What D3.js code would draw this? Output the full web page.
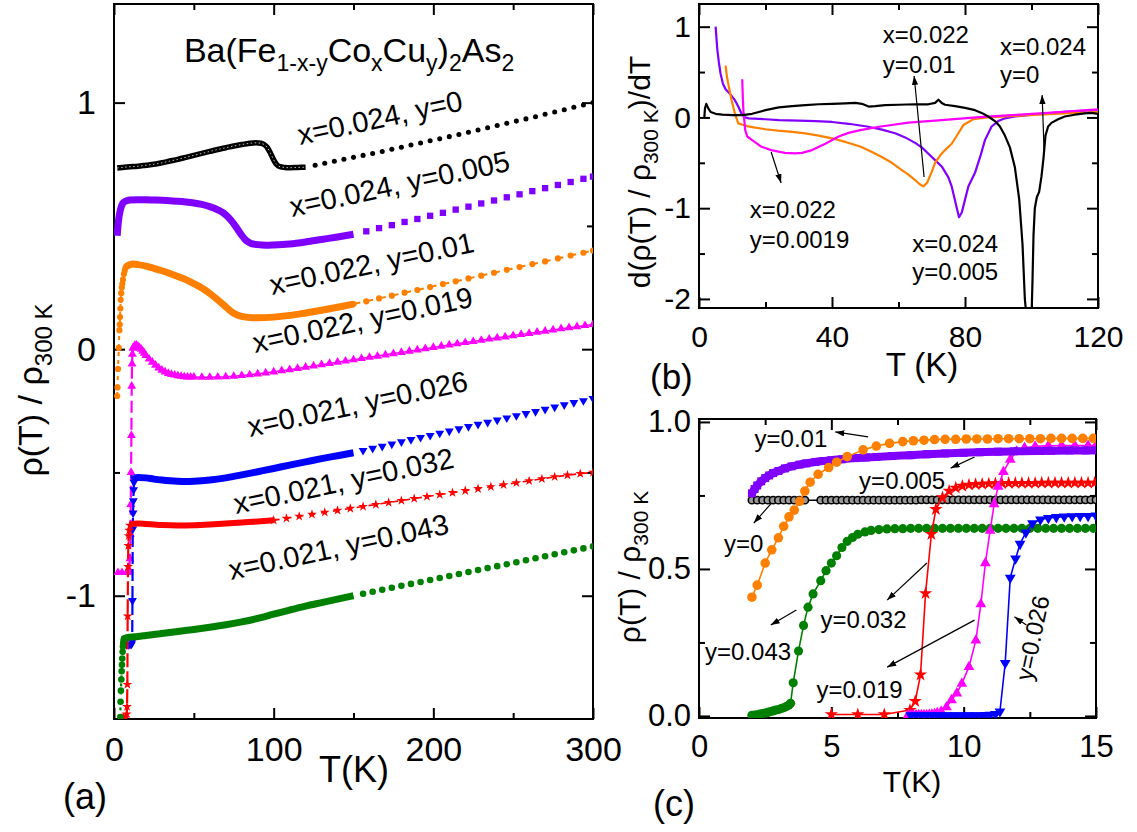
<!DOCTYPE html>
<html><head><meta charset="utf-8">
<script src="https://cdn.jsdelivr.net/npm/d3@7"></script>
<style>
html,body{margin:0;padding:0;background:#fff;}
svg text{font-family:"Liberation Sans",Arial,Helvetica,sans-serif;fill:#000;}
</style></head><body>
<svg id="fig" width="1137" height="832" xmlns="http://www.w3.org/2000/svg"></svg>
<script>
// ================= DATA =================
// ---- Panel (a): rho(T)/rho300K, curves offset by 0.3 each ----
const aBlackDense = [[2,0.735],[5,0.737],[10,0.740],[15,0.742],[20,0.746],[25,0.750],[30,0.756],[35,0.763],[40,0.770],[45,0.778],[50,0.786],[55,0.794],[60,0.802],[65,0.810],[70,0.817],[75,0.824],[80,0.830],[85,0.835],[89,0.837],[92,0.835],[94,0.830],[96,0.818],[98,0.795],[100,0.768],[102,0.748],[104,0.740],[107,0.737],[110,0.736],[115,0.737],[120,0.738]];
const aBlackSparse = [[126,0.746],[132,0.754],[138,0.762],[144,0.770],[150,0.778],[156,0.786],[162,0.794],[168,0.802],[174,0.811],[180,0.819],[186,0.828],[192,0.836],[198,0.845],[204,0.853],[210,0.862],[216,0.871],[222,0.880],[228,0.889],[234,0.898],[240,0.907],[246,0.916],[252,0.925],[258,0.934],[264,0.943],[270,0.953],[276,0.962],[282,0.971],[288,0.981],[294,0.990],[300,1.000]];

const aPurpleDense = [[2,0.460],[2.5,0.500],[3,0.530],[4,0.565],[5,0.585],[6,0.595],[8,0.602],[10,0.605],[15,0.606],[20,0.606],[25,0.605],[30,0.604],[35,0.602],[40,0.600],[45,0.597],[50,0.593],[55,0.587],[60,0.578],[65,0.565],[70,0.545],[73,0.525],[76,0.500],[78,0.480],[80,0.462],[82,0.446],[84,0.435],[86,0.428],[90,0.424],[95,0.422],[100,0.423],[110,0.427],[120,0.435],[130,0.445],[140,0.455],[150,0.466]];
const aPurpleSparse = [[158,0.478],[166,0.491],[174,0.503],[182,0.516],[190,0.528],[198,0.541],[206,0.553],[214,0.566],[222,0.578],[230,0.591],[238,0.603],[246,0.616],[254,0.628],[262,0.641],[270,0.653],[278,0.666],[286,0.678],[294,0.691],[300,0.700]];

const aOrangeLow = [[2,-0.190],[2.2,-0.155],[2.5,-0.080],[3,0.005],[3.4,0.077],[3.6,0.100],[3.8,0.130],[4,0.165],[4.2,0.200],[4.5,0.227],[4.9,0.250],[5.2,0.265],[5.6,0.282],[6.2,0.305],[6.7,0.318],[7.2,0.330],[7.7,0.335]];
const aOrangeDense = [[7.7,0.335],[10,0.343],[12,0.345],[15,0.343],[20,0.337],[25,0.328],[30,0.318],[35,0.307],[40,0.295],[45,0.282],[50,0.266],[55,0.248],[60,0.226],[65,0.200],[70,0.172],[73,0.155],[76,0.142],[80,0.133],[85,0.128],[90,0.127],[100,0.130],[110,0.137],[120,0.147],[130,0.158],[140,0.170],[150,0.183]];
const aOrangeSparse = [[150,0.183],[158,0.194],[166,0.206],[174,0.217],[182,0.229],[190,0.240],[198,0.252],[206,0.264],[214,0.275],[222,0.287],[230,0.298],[238,0.310],[246,0.322],[254,0.333],[262,0.345],[270,0.356],[278,0.368],[286,0.380],[294,0.391],[300,0.400]];

const aPinkLow = [[2.5,-0.906],[5,-0.906],[8,-0.905],[9,-0.905],[9.5,-0.895],[10,-0.850],[10.3,-0.750],[10.5,-0.630],[10.7,-0.500],[10.9,-0.350],[11.1,-0.150],[11.3,-0.060],[11.5,-0.020],[12,0.005]];
const aPinkPts = [[12,0.005],[13,0.015],[14,0.016],[15,0.012],[16,0.006],[17,0.0],[18,-0.008],[19,-0.016],[20,-0.025],[22,-0.040],[24,-0.053],[26,-0.065],[28,-0.076],[30,-0.085],[32,-0.092],[34,-0.098],[36,-0.102],[38,-0.105],[40,-0.108],[42,-0.110],[44,-0.112],[46,-0.113],[48,-0.113],[50,-0.113],[55,-0.114],[60,-0.114],[65,-0.113],[70,-0.112],[75,-0.110],[80,-0.107],[85,-0.104],[90,-0.100],[95,-0.096],[100,-0.092],[105,-0.087],[110,-0.083],[115,-0.078],[120,-0.073],[125,-0.068],[130,-0.063],[135,-0.058],[140,-0.053],[145,-0.048],[150,-0.043],[155,-0.038],[160,-0.033],[165,-0.028],[170,-0.023],[175,-0.018],[180,-0.013],[185,-0.008],[190,-0.003],[195,0.002],[200,0.007],[205,0.012],[210,0.017],[215,0.022],[220,0.027],[225,0.031],[230,0.036],[235,0.041],[240,0.046],[245,0.050],[250,0.055],[255,0.060],[260,0.064],[265,0.069],[270,0.073],[275,0.078],[280,0.083],[285,0.087],[290,0.091],[295,0.096],[300,0.100]];

const aBlueLow = [[8,-1.198],[9,-1.198],[10,-1.198],[11,-1.196],[11.4,-1.185],[11.55,-1.020],[11.75,-0.730],[11.95,-0.665],[12.1,-0.615],[12.3,-0.570],[12.5,-0.540],[12.8,-0.528],[13,-0.522]];
const aBlueDense = [[13,-0.522],[15,-0.520],[20,-0.522],[25,-0.527],[30,-0.531],[35,-0.534],[40,-0.536],[45,-0.537],[50,-0.536],[60,-0.531],[70,-0.522],[80,-0.510],[90,-0.497],[100,-0.484],[110,-0.470],[120,-0.457],[130,-0.444],[140,-0.432],[150,-0.420]];
const aBlueSparse = [[156,-0.411],[162,-0.402],[168,-0.394],[174,-0.385],[180,-0.376],[186,-0.367],[192,-0.358],[198,-0.350],[204,-0.341],[210,-0.332],[216,-0.323],[222,-0.314],[228,-0.305],[234,-0.297],[240,-0.288],[246,-0.279],[252,-0.270],[258,-0.261],[264,-0.253],[270,-0.244],[276,-0.235],[282,-0.226],[288,-0.217],[294,-0.209],[300,-0.200]];

const aRedLow = [[5,-1.495],[6,-1.495],[7,-1.495],[7.97,-1.480],[8.17,-1.450],[8.37,-1.360],[8.56,-1.083],[8.78,-0.882],[8.95,-0.797],[9.2,-0.757],[9.5,-0.735],[10,-0.715]];
const aRedDense = [[10,-0.712],[12,-0.708],[15,-0.707],[20,-0.709],[25,-0.711],[30,-0.713],[40,-0.715],[50,-0.714],[60,-0.711],[70,-0.707],[80,-0.703],[90,-0.699],[100,-0.694]];
const aRedSparse = [[100,-0.694],[108,-0.686],[116,-0.678],[124,-0.670],[132,-0.662],[140,-0.654],[148,-0.646],[156,-0.638],[164,-0.630],[172,-0.622],[180,-0.614],[188,-0.606],[196,-0.598],[204,-0.590],[212,-0.582],[220,-0.574],[228,-0.566],[236,-0.558],[244,-0.550],[252,-0.542],[260,-0.534],[268,-0.526],[276,-0.518],[284,-0.511],[292,-0.505],[300,-0.500]];

const aGreenLow = [[3.46,-1.757],[3.56,-1.687],[3.76,-1.579],[3.95,-1.492],[4.12,-1.430],[4.31,-1.385],[4.6,-1.340],[4.8,-1.306],[5.0,-1.280],[5.2,-1.255],[5.4,-1.227],[5.6,-1.206],[5.8,-1.193],[6.0,-1.182],[6.3,-1.174]];
const aGreenDense = [[6.3,-1.174],[8,-1.170],[10,-1.168],[15,-1.165],[20,-1.161],[30,-1.153],[40,-1.145],[50,-1.137],[60,-1.128],[70,-1.118],[80,-1.106],[90,-1.092],[100,-1.075],[110,-1.058],[120,-1.042],[130,-1.028],[140,-1.014],[150,-1.000]];
const aGreenSparse = [[156,-0.992],[162,-0.984],[168,-0.976],[174,-0.968],[180,-0.960],[186,-0.952],[192,-0.944],[198,-0.936],[204,-0.928],[210,-0.920],[216,-0.912],[222,-0.904],[228,-0.896],[234,-0.888],[240,-0.880],[246,-0.872],[252,-0.864],[258,-0.856],[264,-0.848],[270,-0.840],[276,-0.832],[282,-0.824],[288,-0.816],[294,-0.808],[300,-0.800]];

const aLabels = ["x=0.024, y=0","x=0.024, y=0.005","x=0.022, y=0.01","x=0.022, y=0.019","x=0.021, y=0.026","x=0.021, y=0.032","x=0.021, y=0.043"];
const aLabelPos = [[116.5,0.828],[111.5,0.536],[99,0.220],[88.3,-0.016],[85.2,-0.356],[76.4,-0.669],[73.3,-0.936]];
const aXTicks = [0,100,200,300], aXMinor = [50,150,250];
const aYTicks = [-1,0,1], aYMinor = [-0.5,0.5];

// ---- Panel (b): d(rho/rho300)/dT ----
const bPurple = [[5,1.0],[5.5,0.75],[6,0.6],[6.5,0.48],[7.2,0.37],[8,0.31],[9.3,0.26],[10.8,0.19],[11.8,0.12],[12.8,0.04],[13.9,0.0],[15,-0.01],[20,-0.02],[24,-0.03],[30,-0.035],[35,-0.04],[40,-0.05],[45,-0.07],[50.5,-0.10],[55,-0.135],[59,-0.175],[62,-0.22],[65,-0.28],[67,-0.33],[69,-0.40],[71,-0.47],[73,-0.54],[75,-0.66],[76,-0.76],[77.4,-0.98],[78.2,-1.10],[79,-1.05],[79.5,-0.98],[81,-0.76],[83,-0.61],[84.6,-0.43],[86,-0.25],[88,-0.10],[90,-0.04],[92,-0.01],[95,0.01],[99,0.025],[109,0.06],[120,0.08]];
const bOrange = [[8,0.57],[8.4,0.45],[8.8,0.37],[9.8,0.19],[10.8,0.044],[11.8,-0.066],[13.4,-0.084],[14.5,-0.095],[16.5,-0.11],[20,-0.13],[23.7,-0.146],[28,-0.16],[32,-0.175],[36,-0.20],[40,-0.23],[44,-0.27],[48.5,-0.32],[52,-0.38],[54.7,-0.43],[58,-0.50],[61,-0.58],[63,-0.63],[65,-0.69],[66.5,-0.74],[67.5,-0.76],[68.6,-0.72],[70,-0.60],[71,-0.50],[72.5,-0.42],[74,-0.36],[76,-0.29],[77.4,-0.21],[79.5,-0.084],[82.5,-0.02],[86.7,0.0],[92,0.01],[99,0.025],[110,0.045],[120,0.06]];
const bPink = [[13,0.42],[13.2,0.20],[13.4,0.044],[13.7,-0.06],[13.9,-0.14],[14.5,-0.21],[16,-0.25],[18.6,-0.32],[21.7,-0.36],[25.8,-0.39],[28.9,-0.395],[31,-0.39],[34,-0.36],[38,-0.29],[42,-0.21],[45,-0.17],[48.5,-0.14],[54.7,-0.10],[63,-0.058],[73,-0.03],[83.4,0.0],[94,0.025],[105,0.05],[120,0.088]];
const bBlack = [[1.6,0],[1.8,0.10],[2.2,0.15],[2.8,0.10],[3.5,0.06],[5,0.04],[7,0.03],[10,0.025],[13,0.025],[16,0.04],[20,0.08],[24,0.11],[28,0.125],[32,0.135],[36,0.145],[40,0.15],[44,0.155],[47,0.16],[49,0.15],[51,0.12],[53,0.125],[56,0.135],[60,0.14],[65,0.145],[69,0.145],[71,0.16],[72,0.195],[73,0.16],[74,0.14],[77,0.125],[80,0.105],[83,0.08],[85,0.05],[87,0.01],[89,-0.04],[90.5,-0.10],[92,-0.20],[93.5,-0.33],[95,-0.55],[96.3,-0.90],[97.3,-1.40],[98,-2.0],[98.5,-2.2],[100,-2.2],[100.3,-1.8],[100.6,-1.3],[101,-1.0],[101.6,-0.88],[102.3,-0.82],[103,-0.65],[103.6,-0.45],[104.2,-0.20],[105,-0.10],[106,-0.06],[108,-0.02],[110,0.01],[113,0.03],[116,0.045],[118,0.05],[120,0.04]];
const bXTicks = [0,40,80,120], bXMinor = [20,60,100];
const bYTicks = [-2,-1,0,1], bYMinor = [-1.5,-0.5,0.5];
const bNotes = [["x=0.022","y=0.01"],["x=0.024","y=0"],["x=0.022","y=0.0019"],["x=0.024","y=0.005"]];
const bNotePos = [[55.3,0.82,0.49],[90.5,0.688,0.379],[15.3,-1.108,-1.439],[64.1,-1.483,-1.79]];
const bArrows = [[67.7,-0.656,64.7,0.457],[103.8,-0.381,103.2,0.247],[21.7,-0.381,24.7,-0.722]];

// ---- Panel (c): low-T superconducting transitions ----
const cBlack = [[2.0,.734],[2.2,.734],[2.4,.734],[2.6,.734],[2.8,.734],[3.0,.734],[3.2,.734],[3.4,.734],[3.6,.734],[3.8,.734],[4.0,.734],[4.6,.734],[4.8,.734],[5.0,.734],[5.2,.734],[5.4,.734],[5.6,.734],[5.8,.734],[6.0,.734],[6.2,.734],[6.4,.734],[6.6,.734],[6.8,.734],[7.0,.734],[7.2,.734],[7.4,.734],[7.6,.734],[7.8,.734],[8.0,.734],[8.2,.734],[8.4,.735],[8.6,.735],[8.8,.735],[9.0,.735],[9.2,.735],[9.4,.735],[9.6,.735],[9.8,.735],[10.0,.735],[10.2,.735],[10.4,.735],[10.6,.735],[10.8,.735],[11.0,.735],[11.2,.735],[11.4,.735],[11.6,.735],[11.8,.735],[12.0,.735],[12.2,.735],[12.4,.735],[12.6,.735],[12.8,.735],[13.0,.735],[13.2,.735],[13.4,.735],[13.6,.735],[13.8,.735],[14.0,.735],[14.2,.735],[14.4,.735],[14.6,.735],[14.8,.735],[15.0,.735]];
const cPurple = [[2,0.757],[2.1,0.772],[2.2,0.784],[2.35,0.798],[2.5,0.809],[2.65,0.818],[2.8,0.826],[3,0.833],[3.25,0.842],[3.5,0.849],[3.8,0.855],[4.05,0.859],[4.4,0.864],[4.7,0.867],[5.0,0.870],[5.4,0.873],[5.9,0.877],[6.3,0.879],[6.7,0.881],[7.3,0.884],[8,0.887],[8.6,0.890],[9.3,0.893],[10,0.895],[10.6,0.897],[11.3,0.899],[11.9,0.900],[12.6,0.901],[13.3,0.902],[14,0.903],[14.6,0.903],[15,0.904]];
const cOrange = [[2,0.404],[2.2,0.445],[2.5,0.520],[2.75,0.565],[3.0,0.606],[3.2,0.645],[3.4,0.677],[3.6,0.700],[3.8,0.730],[4.0,0.765],[4.2,0.795],[4.5,0.822],[4.9,0.845],[5.2,0.863],[5.6,0.882],[6.2,0.905],[6.7,0.918],[7.2,0.927],[7.7,0.933],[8.1,0.936],[8.5,0.938],[8.9,0.940],[9.3,0.941],[9.7,0.941],[10.1,0.942],[10.5,0.942],[10.9,0.942],[11.3,0.943],[11.7,0.943],[12.1,0.943],[12.5,0.943],[12.9,0.943],[13.3,0.944],[13.7,0.944],[14.1,0.944],[14.5,0.944],[14.9,0.944]];
const cRed = [[5,0.005],[6,0.005],[7,0.005],[7.97,0.020],[8.17,0.050],[8.37,0.140],[8.56,0.417],[8.78,0.618],[8.95,0.703],[9.2,0.743],[9.45,0.765],[9.7,0.776],[9.95,0.782],[10.2,0.786],[10.45,0.788],[10.7,0.789],[10.95,0.790],[11.2,0.791],[11.45,0.791],[11.7,0.792],[11.95,0.792],[12.2,0.792],[12.45,0.792],[12.7,0.792],[12.95,0.793],[13.2,0.793],[13.45,0.793],[13.7,0.793],[13.95,0.793],[14.2,0.793],[14.45,0.793],[14.7,0.793],[14.95,0.793]];
const cPink = [[7.9,0.003],[8.0,0.003],[8.1,0.003],[8.2,0.003],[8.3,0.003],[8.4,0.003],[8.5,0.003],[8.6,0.003],[8.7,0.004],[8.8,0.005],[8.9,0.007],[9.0,0.010],[9.15,0.015],[9.35,0.030],[9.54,0.054],[9.74,0.077],[9.93,0.110],[10.2,0.167],[10.46,0.257],[10.65,0.380],[10.82,0.520],[11.0,0.630],[11.15,0.720],[11.3,0.780],[11.5,0.830],[11.76,0.872],[12.0,0.900],[12.3,0.912],[12.7,0.917],[13.2,0.919],[13.7,0.920],[14.2,0.920],[14.7,0.920],[15,0.920]];
const cBlue = [[8.0,0.002],[8.2,0.002],[8.4,0.002],[8.6,0.002],[8.8,0.002],[9.0,0.002],[9.2,0.002],[9.4,0.002],[9.6,0.002],[9.8,0.002],[10.0,0.002],[10.2,0.002],[10.4,0.002],[10.6,0.002],[10.8,0.003],[11.0,0.004],[11.2,0.006],[11.37,0.015],[11.57,0.180],[11.76,0.470],[11.96,0.535],[12.13,0.585],[12.35,0.624],[12.6,0.655],[12.9,0.668],[13.2,0.673],[13.5,0.676],[13.8,0.678],[14.1,0.679],[14.4,0.680],[14.7,0.680],[15,0.681]];
const cGreen = [[2.0,0.002],[2.1,0.003],[2.2,0.004],[2.3,0.006],[2.4,0.008],[2.5,0.010],[2.6,0.012],[2.7,0.015],[2.8,0.017],[2.9,0.020],[3.0,0.022],[3.1,0.025],[3.2,0.028],[3.3,0.032],[3.4,0.037],[3.46,0.043],[3.56,0.113],[3.76,0.221],[3.95,0.308],[4.12,0.370],[4.31,0.415],[4.6,0.460],[4.8,0.494],[5.0,0.520],[5.2,0.545],[5.4,0.573],[5.6,0.594],[5.8,0.607],[6.0,0.618],[6.27,0.626],[6.5,0.631],[6.8,0.634],[7.1,0.636],[7.4,0.637],[7.7,0.637],[8.0,0.638],[8.3,0.638],[8.6,0.638],[8.9,0.638],[9.2,0.638],[9.5,0.638],[9.8,0.638],[10.1,0.638],[10.4,0.638],[10.7,0.638],[11.0,0.638],[11.3,0.638],[11.6,0.638],[11.9,0.638],[12.2,0.638],[12.5,0.638],[12.8,0.638],[13.1,0.638],[13.4,0.638],[13.7,0.638],[14.0,0.638],[14.3,0.638],[14.6,0.638],[14.9,0.638]];
const cXTicks = [0,5,10,15], cXMinor = [2.5,7.5,12.5];
const cYTicks = [0,0.5,1.0], cYMinor = [0.25,0.75];
const cNotes = ["y=0.01","y=0.005","y=0","y=0.032","y=0.043","y=0.019"];
const cNotePos = [[2.1,0.915],[6.05,0.772],[0.94,0.558],[4.59,0.299],[0.23,0.190],[4.44,0.061]];
const cRotNote = "y=0.026", cRotNotePos = [12.6,0.265];
const cArrows = [[6.39,0.949,5.15,0.966],[10.41,0.881,9.51,0.843],[2.74,0.724,2.07,0.656],[8.61,0.520,7.11,0.394],[3.68,0.360,2.71,0.309],[10.41,0.326,7.11,0.166],[12.37,0.309,11.92,0.337]];

// ================= DRAWING =================
const svg = d3.select('#fig');
const FONT = '"Liberation Sans", Arial, Helvetica, sans-serif';
const C = {black:'#000000', purple:'#8000ff', orange:'#ff8000', pink:'#ff00ff', blue:'#0000ff', red:'#ff0000', green:'#008000'};

const defs = svg.append('defs');
defs.append('marker').attr('id','arr').attr('viewBox','0 0 10 7').attr('refX',10).attr('refY',3.5)
  .attr('markerWidth',9).attr('markerHeight',6.3).attr('markerUnits','userSpaceOnUse').attr('orient','auto')
  .append('path').attr('d','M0,0 L10,3.5 L0,7 Z').attr('fill','#000');

const xA = d3.scaleLinear().domain([0,300]).range([114,593]);
const yA = d3.scaleLinear().domain([-1.5,1.4]).range([719,4]);
const xB = d3.scaleLinear().domain([0,120]).range([699,1098]);
const yB = d3.scaleLinear().domain([-2.1,1.25]).range([308,4]);
const xC = d3.scaleLinear().domain([0,15]).range([699,1096]);
const yC = d3.scaleLinear().domain([-0.007,1.01]).range([718,419]);

function clip(id, x, y){
  defs.append('clipPath').attr('id',id).append('rect')
    .attr('x',x.range()[0]).attr('y',y.range()[1]).attr('width',x.range()[1]-x.range()[0]).attr('height',y.range()[0]-y.range()[1]);
}
clip('clipA',xA,yA); clip('clipB',xB,yB); clip('clipC',xC,yC);

function axes(x, y, o){
  const g = svg.append('g');
  const [x0,x1] = x.range(), [y1,y0] = [y.range()[0], y.range()[1]];
  const style = sel => { sel.attr('font-family',FONT).attr('font-size',o.fs);
    sel.select('.domain').remove(); sel.selectAll('.tick line').attr('stroke','#000').attr('stroke-width',2);
    sel.selectAll('.tick text').attr('fill','#000'); };
  g.append('g').attr('transform',`translate(0,${y1})`).call(d3.axisBottom(x).tickValues(o.xt).tickSize(-11).tickSizeOuter(0).tickPadding(o.px).tickFormat(o.xf)).call(style);
  g.append('g').attr('transform',`translate(0,${y1})`).call(d3.axisBottom(x).tickValues(o.xm).tickSize(-6).tickSizeOuter(0).tickFormat('')).call(style);
  g.append('g').attr('transform',`translate(0,${y0})`).call(d3.axisTop(x).tickValues(o.xt).tickSize(-11).tickSizeOuter(0).tickFormat('')).call(style);
  g.append('g').attr('transform',`translate(0,${y0})`).call(d3.axisTop(x).tickValues(o.xm).tickSize(-6).tickSizeOuter(0).tickFormat('')).call(style);
  g.append('g').attr('transform',`translate(${x0},0)`).call(d3.axisLeft(y).tickValues(o.yt).tickSize(-11).tickSizeOuter(0).tickPadding(o.py).tickFormat(o.yf)).call(style);
  g.append('g').attr('transform',`translate(${x0},0)`).call(d3.axisLeft(y).tickValues(o.ym).tickSize(-6).tickSizeOuter(0).tickFormat('')).call(style);
  g.append('g').attr('transform',`translate(${x1},0)`).call(d3.axisRight(y).tickValues(o.yt).tickSize(-11).tickSizeOuter(0).tickFormat('')).call(style);
  g.append('g').attr('transform',`translate(${x1},0)`).call(d3.axisRight(y).tickValues(o.ym).tickSize(-6).tickSizeOuter(0).tickFormat('')).call(style);
  g.append('rect').attr('x',x0).attr('y',y0).attr('width',x1-x0).attr('height',y1-y0)
    .attr('fill','none').attr('stroke','#000').attr('stroke-width',2);
}

const symTypes = {circle:d3.symbolCircle, square:d3.symbolSquare, tri:d3.symbolTriangle, tridown:d3.symbolTriangle, star:d3.symbolStar};
function markers(g, pts, x, y, type, size, color, o={}){
  const p = d3.symbol().type(symTypes[type]).size(size)();
  g.append('g').selectAll('path').data(pts).join('path').attr('d',p)
    .attr('transform', d=>`translate(${x(d[0])},${y(d[1])})${type==='tridown'?' rotate(180)':''}`)
    .attr('fill', o.fill||color).attr('stroke', o.stroke||'none').attr('stroke-width', o.sw||0);
}
function line(g, pts, x, y, color, w, dash, curve){
  g.append('path').datum(pts)
    .attr('d', d3.line().x(d=>x(d[0])).y(d=>y(d[1])).curve(curve||d3.curveLinear))
    .attr('fill','none').attr('stroke',color).attr('stroke-width',w)
    .attr('stroke-dasharray', dash||null).attr('stroke-linejoin','round');
}
const fmtPlain = d => String(d);

// ---------- Panel (a) ----------
axes(xA, yA, {xt:aXTicks, xm:aXMinor, yt:aYTicks, ym:aYMinor, fs:34, px:18, py:18, xf:fmtPlain, yf:fmtPlain});
const gA = svg.append('g').attr('clip-path','url(#clipA)');
line(gA, aBlackDense, xA, yA, C.black, 5.5, null, d3.curveMonotoneX);
line(gA, aBlackDense, xA, yA, '#bbb', 1, '1.5,2.5', d3.curveMonotoneX);
markers(gA, aBlackSparse, xA, yA, 'circle', 20, C.black);
line(gA, aPurpleDense, xA, yA, C.purple, 7, null, d3.curveMonotoneX);
markers(gA, aPurpleSparse, xA, yA, 'square', 40, C.purple);
line(gA, aOrangeLow, xA, yA, C.orange, 2, '4,4');
markers(gA, aOrangeLow, xA, yA, 'circle', 30, C.orange);
line(gA, aOrangeDense, xA, yA, C.orange, 7, null, d3.curveMonotoneX);
line(gA, aOrangeSparse, xA, yA, C.orange, 2, '7,6');
markers(gA, aOrangeSparse, xA, yA, 'circle', 30, C.orange);
line(gA, aPinkLow, xA, yA, C.pink, 2.2, '12,5');
markers(gA, aPinkLow, xA, yA, 'tri', 34, C.pink);
line(gA, aPinkPts, xA, yA, C.pink, 1.5);
markers(gA, aPinkPts, xA, yA, 'tri', 34, C.pink);
line(gA, aBlueLow, xA, yA, C.blue, 2.2, '12,5');
markers(gA, aBlueLow, xA, yA, 'tridown', 34, C.blue);
line(gA, aBlueDense, xA, yA, C.blue, 7, null, d3.curveMonotoneX);
markers(gA, aBlueSparse, xA, yA, 'tridown', 34, C.blue);
line(gA, aRedLow, xA, yA, C.red, 2.2, '14,4');
markers(gA, aRedLow, xA, yA, 'star', 30, C.red);
line(gA, aRedDense, xA, yA, C.red, 6, null, d3.curveMonotoneX);
line(gA, aRedSparse, xA, yA, C.red, 1.6, '6,6');
markers(gA, aRedSparse, xA, yA, 'star', 30, C.red);
line(gA, aGreenLow, xA, yA, C.green, 2.2, '3,5');
markers(gA, aGreenLow, xA, yA, 'circle', 34, C.green);
line(gA, aGreenDense, xA, yA, C.green, 7, null, d3.curveMonotoneX);
markers(gA, aGreenSparse, xA, yA, 'circle', 34, C.green);

aLabels.forEach((t,i)=>{
  const px = xA(aLabelPos[i][0]), py = yA(aLabelPos[i][1]);
  svg.append('text').attr('transform',`translate(${px},${py}) rotate(-12)`).attr('font-size',29).text(t);
});
{
  const t = svg.append('text').attr('x',xA(43.8)).attr('y',yA(1.163)).attr('font-size',34);
  const parts = [["Ba(Fe",0],["1-x-y",1],["Co",0],["x",1],["Cu",0],["y",1],[")",0],["2",1],["As",0],["2",1]];
  let sub = false;
  parts.forEach(([s,isSub])=>{
    const ts = t.append('tspan').text(s);
    if(isSub){ ts.attr('font-size',23).attr('dy', sub? 0 : 9); sub = true; }
    else { ts.attr('dy', sub? -9 : 0); sub = false; }
  });
}
function yTitle(cx, cy, fs, pre, subTxt, post){
  const t = svg.append('text').attr('transform',`translate(${cx},${cy}) rotate(-90)`).attr('text-anchor','middle').attr('font-size',fs);
  const sh = Math.round(fs*0.28);
  t.append('tspan').text(pre);
  t.append('tspan').attr('font-size',Math.round(fs*0.7)).attr('dy',sh).text(subTxt);
  if(post) t.append('tspan').attr('dy',-sh).text(post);
}
yTitle(42, 390, 34, "ρ(T) / ρ", "300 K", null);
svg.append('text').attr('x',354).attr('y',782).attr('text-anchor','middle').attr('font-size',36).text('T(K)');
svg.append('text').attr('x',63).attr('y',809).attr('font-size',36).text('(a)');

// ---------- Panel (b) ----------
axes(xB, yB, {xt:bXTicks, xm:bXMinor, yt:bYTicks, ym:bYMinor, fs:30, px:18, py:8, xf:fmtPlain, yf:fmtPlain});
const gB = svg.append('g').attr('clip-path','url(#clipB)');
line(gB, bPurple, xB, yB, C.purple, 2.2);
line(gB, bOrange, xB, yB, C.orange, 2.2);
line(gB, bPink, xB, yB, C.pink, 2.2);
line(gB, bBlack, xB, yB, C.black, 2.2);
bNotes.forEach((n,i)=>{
  const p = bNotePos[i];
  svg.append('text').attr('x',xB(p[0])).attr('y',yB(p[1])).attr('font-size',24).text(n[0]);
  svg.append('text').attr('x',xB(p[0])).attr('y',yB(p[2])).attr('font-size',24).text(n[1]);
});
bArrows.forEach(a=>{
  svg.append('line').attr('x1',xB(a[0])).attr('y1',yB(a[1])).attr('x2',xB(a[2])).attr('y2',yB(a[3]))
    .attr('stroke','#000').attr('stroke-width',1.2).attr('marker-end','url(#arr)');
});
yTitle(650, 172, 30, "d(ρ(T) / ρ", "300 K", ")/dT");
svg.append('text').attr('x',922).attr('y',376).attr('text-anchor','middle').attr('font-size',33).text('T (K)');
svg.append('text').attr('x',650).attr('y',389).attr('font-size',35).text('(b)');

// ---------- Panel (c) ----------
axes(xC, yC, {xt:cXTicks, xm:cXMinor, yt:cYTicks, ym:cYMinor, fs:31, px:17, py:8, xf:fmtPlain, yf:d3.format('.1f')});
const gC = svg.append('g').attr('clip-path','url(#clipC)');
line(gC, cBlack, xC, yC, C.black, 1.5);
markers(gC, cBlack, xC, yC, 'circle', 42, C.black, {fill:'#999', stroke:'#000', sw:1.6});
line(gC, cGreen, xC, yC, C.green, 1.6);
markers(gC, cGreen, xC, yC, 'circle', 66, C.green);
line(gC, cRed, xC, yC, C.red, 1.6);
markers(gC, cRed, xC, yC, 'star', 55, C.red);
line(gC, cPink, xC, yC, C.pink, 1.6);
markers(gC, cPink, xC, yC, 'tri', 50, C.pink);
line(gC, cBlue, xC, yC, C.blue, 1.6);
markers(gC, cBlue, xC, yC, 'tridown', 50, C.blue);
line(gC, cPurple, xC, yC, C.purple, 8, null, d3.curveMonotoneX);
markers(gC, cPurple, xC, yC, 'square', 64, C.purple);
line(gC, cOrange, xC, yC, C.orange, 1.6);
markers(gC, cOrange, xC, yC, 'circle', 72, C.orange);

cNotes.forEach((n,i)=>{
  svg.append('text').attr('x',xC(cNotePos[i][0])).attr('y',yC(cNotePos[i][1])).attr('font-size',24).text(n);
});
svg.append('text').attr('transform',`translate(${xC(cRotNotePos[0])},${yC(cRotNotePos[1])}) rotate(-78)`)
  .attr('text-anchor','middle').attr('dy','0.35em').attr('font-size',24).text(cRotNote);
cArrows.forEach(a=>{
  svg.append('line').attr('x1',xC(a[0])).attr('y1',yC(a[1])).attr('x2',xC(a[2])).attr('y2',yC(a[3]))
    .attr('stroke','#000').attr('stroke-width',1.2).attr('marker-end','url(#arr)');
});
yTitle(640, 567, 30, "ρ(T) / ρ", "300 K", null);
svg.append('text').attr('x',912).attr('y',792).attr('text-anchor','middle').attr('font-size',30).text('T(K)');
svg.append('text').attr('x',653).attr('y',816).attr('font-size',36).text('(c)');
</script></body></html>
